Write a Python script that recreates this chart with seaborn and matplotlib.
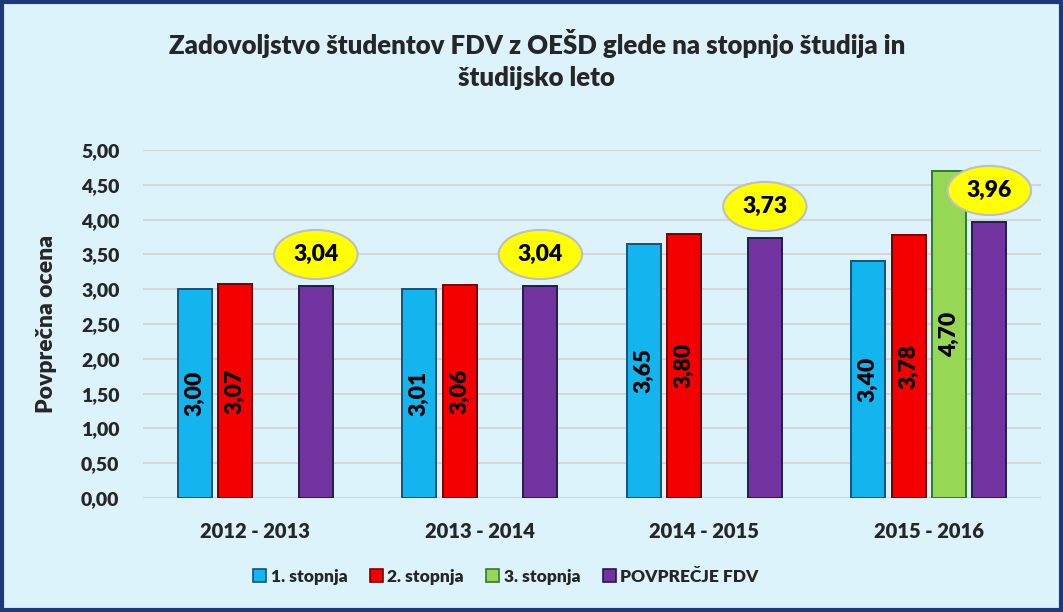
import matplotlib
matplotlib.use("Agg")
import matplotlib.pyplot as plt
import seaborn as sns
import pandas as pd
from matplotlib.patches import Rectangle, Patch

# ---- data ----
years = ["2012 - 2013", "2013 - 2014", "2014 - 2015", "2015 - 2016"]
series = ["1. stopnja", "2. stopnja", "3. stopnja", "POVPREČJE FDV"]
stopnja1 = [3.00, 3.01, 3.65, 3.40]
stopnja2 = [3.07, 3.06, 3.80, 3.78]
stopnja3 = [None, None, None, 4.70]
povprecje = [3.04, 3.04, 3.73, 3.96]
yticks = [0, 0.5, 1, 1.5, 2, 2.5, 3, 3.5, 4, 4.5, 5]

title = "Zadovoljstvo študentov FDV z OEŠD glede na stopnjo študija in\nštudijsko leto"
ylabel = "Povprečna ocena"

rows = []
for name, vals in zip(series, [stopnja1, stopnja2, stopnja3, povprecje]):
    for y, v in zip(years, vals):
        if v is not None:
            rows.append({"leto": y, "serija": name, "vrednost": v})
df = pd.DataFrame(rows)

colors = ["#12B5EE", "#F40000", "#97D756", "#7232A0"]
edges = ["#1B4F7A", "#7A0000", "#2E7A2E", "#1C1E4F"]
bg = "#DDF3FC"
W = "heavy"

sns.set_theme(style="white")
plt.rcParams["font.family"] = ["Lato", "DejaVu Sans"]

fig = plt.figure(figsize=(10.63, 6.12), dpi=100, facecolor=bg)
ax = fig.add_axes([143 / 1063, 1 - 498 / 612, (1041 - 143) / 1063, (498 - 150) / 612])
ax.set_facecolor(bg)

sns.barplot(data=df, x="leto", y="vrednost", hue="serija", order=years,
            hue_order=series, palette=colors, width=0.72, gap=0.16,
            saturation=1, ax=ax, legend=False, zorder=3)

for cont, ec in zip(ax.containers, edges):
    for bar in cont:
        bar.set_edgecolor(ec)
        bar.set_linewidth(1.4)

for i, cont in enumerate(ax.containers):
    if series[i] == "POVPREČJE FDV":
        for bar in cont:
            h = bar.get_height()
            ax.annotate(f"{h:.2f}".replace(".", ","),
                        xy=(bar.get_x() + bar.get_width() / 2, h),
                        xytext=(0, 23), textcoords="offset points",
                        ha="center", va="center", fontsize=16.5, fontweight=W,
                        color="black", zorder=6,
                        bbox=dict(boxstyle="ellipse,pad=0.3", fc="#FFFF00",
                                  ec="#BFBFBF", lw=1.5))
    else:
        ax.bar_label(cont, labels=[f"{b.get_height():.2f}".replace(".", ",") for b in cont],
                     label_type="center", rotation=90, fontsize=16.5,
                     fontweight=W, color="black", zorder=5)

ax.set_ylim(0, 5)
ax.set_xlim(-0.5, 3.5)
ax.set_yticks(yticks)
ax.set_yticklabels([f"{t:.2f}".replace(".", ",") for t in yticks],
                   fontsize=14, fontweight=W)
ax.tick_params(axis="y", length=0, pad=17)
ax.tick_params(axis="x", length=0, pad=17)
for lbl in ax.get_xticklabels():
    lbl.set_fontsize(14.5)
    lbl.set_fontweight(W)
ax.set_xlabel("")
ax.set_ylabel(ylabel, fontsize=16.5, fontweight=W, labelpad=17)
ax.yaxis.grid(True, color="#D6D6D6", lw=1.5, zorder=0)
ax.set_axisbelow(True)
for s in ax.spines.values():
    s.set_visible(False)

fig.suptitle(title, x=0.505, y=0.952, fontsize=18.5, fontweight=W,
             linespacing=1.4)

handles = [Patch(facecolor=c, edgecolor=e, lw=1.2) for c, e in zip(colors, edges)]
fig.legend(handles, series, loc="center", bbox_to_anchor=(0.476, 0.058), ncol=4,
           frameon=False, prop={"size": 12.5, "weight": W},
           handlelength=0.75, handleheight=0.75, handletextpad=0.25,
           columnspacing=1.3)

fig.patches.append(Rectangle((0.0015, 0.0025), 0.997, 0.995, transform=fig.transFigure,
                             fill=False, ec="#1F3878", lw=3, zorder=10))

fig.savefig("out.png", dpi=100, facecolor=bg)
